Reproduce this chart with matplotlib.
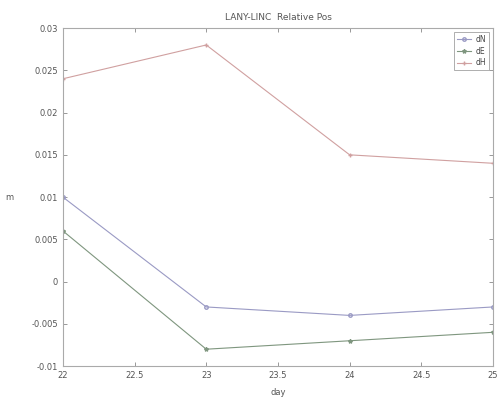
import numpy as np
import matplotlib.pyplot as plt

days = [22, 23, 24, 25]
dN = [0.010, -0.003, -0.004, -0.003]
dE = [0.006, -0.008, -0.007, -0.006]
dH = [0.024, 0.028, 0.015, 0.014]

fig = plt.figure(figsize=(4.99, 4.01), dpi=100)
ax = fig.add_axes([0.126, 0.087, 0.862, 0.843])

ax.plot(days, dN, color='#9a9ac4', marker='o', ms=2.5, lw=0.8, mfc='none', label='dN')
ax.plot(days, dE, color='#7f967f', marker='*', ms=3, lw=0.8, label='dE')
ax.plot(days, dH, color='#d0a0a0', marker='+', ms=3, lw=0.8, label='dH')

ax.set_xlim(22, 25)
ax.set_ylim(-0.01, 0.03)
ax.set_xticks(np.arange(22, 25.01, 0.5))
ax.set_xticklabels(['22', '22.5', '23', '23.5', '24', '24.5', '25'])
ax.set_yticks(np.arange(-0.01, 0.0301, 0.005))
ax.set_yticklabels(['-0.01', '-0.005', '0', '0.005', '0.01', '0.015', '0.02', '0.025', '0.03'])
ax.tick_params(direction='in', top=True, right=True, labelsize=6, colors='#888888',
               labelcolor='#555555', length=3, width=0.6)
for s in ax.spines.values():
    s.set_color('#aaaaaa')
    s.set_linewidth(0.8)

ax.set_title('LANY-LINC  Relative Pos', fontsize=6.5, color='#555555', pad=6)
ax.set_xlabel('day', fontsize=6, color='#555555', labelpad=6)
ax.set_ylabel('m', fontsize=6, color='#555555', rotation=0, labelpad=16, va='center')

leg = ax.legend(loc='upper right', fontsize=5.5, frameon=True, fancybox=False,
                handlelength=1.8, handletextpad=0.6, borderpad=0.4, labelspacing=0.35,
                borderaxespad=0.5)
leg.get_frame().set_edgecolor('#999999')
leg.get_frame().set_linewidth(0.7)
for t in leg.get_texts():
    t.set_color('#444444')

fig.savefig('out.png', dpi=100)
